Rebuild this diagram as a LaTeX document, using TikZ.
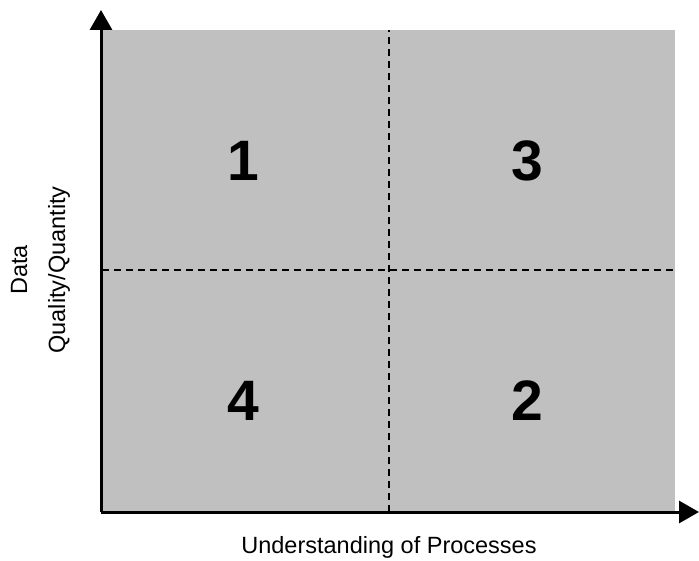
\documentclass[tikz,border=0pt]{standalone}
\usepackage{fontspec}
\setmainfont{Liberation Sans}
\usetikzlibrary{arrows.meta}

\definecolor{quadgray}{RGB}{192,192,192}

\tikzset{
  quad_num/.style={anchor=base,font=\fontsize{57}{60}\selectfont\bfseries},
  axis_lbl/.style={anchor=base,font=\fontsize{23.5}{28}\selectfont},
}

\begin{document}
\begin{tikzpicture}[
  x=1pt, y=1pt,
  every node/.style={color=black,inner sep=0pt},
  axis line/.style={line width=3pt,-{Triangle[length=20pt,width=22pt]}},
  split line/.style={dashed,line width=1.3pt,dash pattern=on 7pt off 5pt},
  ]
  \useasboundingbox (0,0) rectangle (699,560);

  \fill[quadgray] (102,48) rectangle (675,530);

  \coordinate (origin) at (101,48);
  \coordinate (ytip) at (101,550);
  \coordinate (xtip) at (699,48);

  \coordinate (vs) at (389,48);
  \coordinate (ve) at (389,530);
  \coordinate (hs) at (102,290);
  \coordinate (he) at (675,290);

  \draw[split line] (vs) -- (ve);
  \draw[split line] (hs) -- (he);

  \draw[axis line] (origin) -- (ytip);
  \draw[axis line] (origin) -- (xtip);

  \foreach \Num/\X/\Y in {1/243/379, 3/527/379, 4/243/139, 2/527/139}{
    \node[quad_num] (q\Num) at (\X,\Y) {\Num};
  }

  \node[axis_lbl] (xlbl) at (389,7) {Understanding of Processes};
  \node[axis_lbl,rotate=90] (ylbla) at (27,290) {Data};
  \node[axis_lbl,rotate=90] (ylblb) at (65,290) {Quality/Quantity};

\end{tikzpicture}
\end{document}
